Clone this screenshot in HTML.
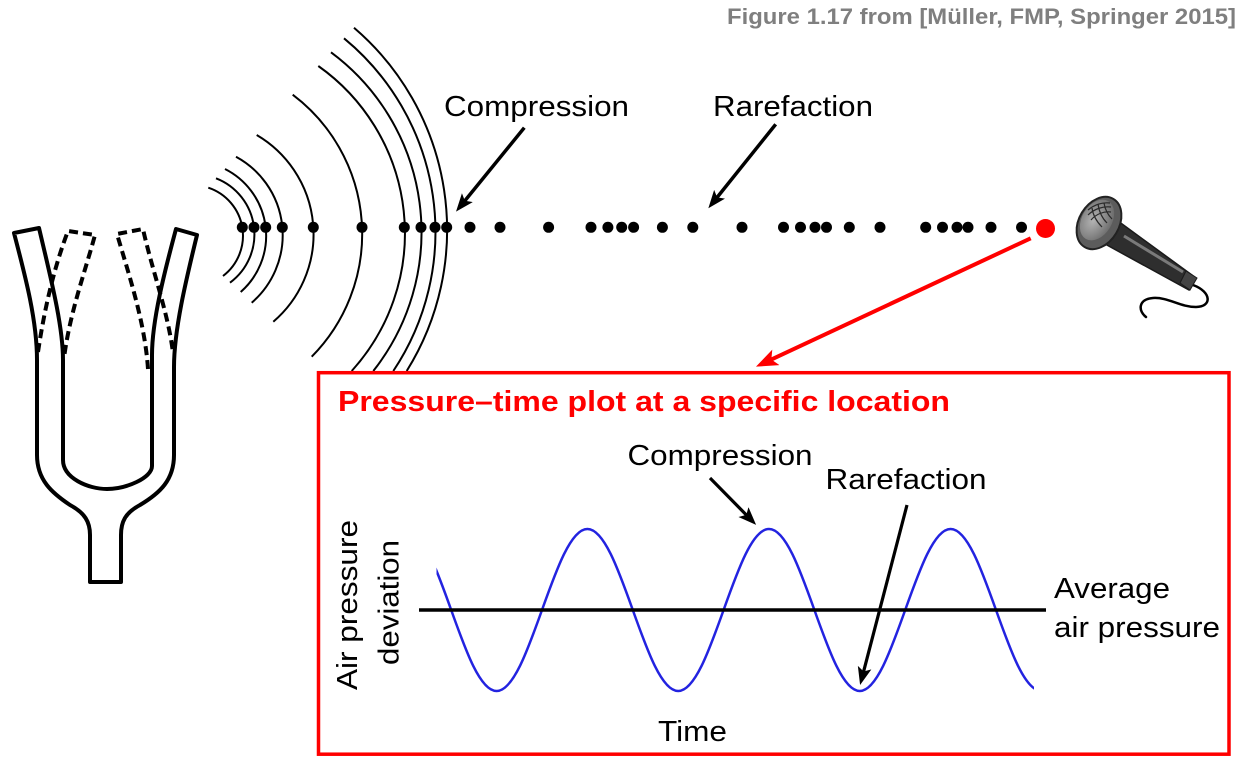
<!DOCTYPE html>
<html>
<head>
<meta charset="utf-8">
<style>
  html, body { margin: 0; padding: 0; background: #ffffff; }
  body { width: 1241px; height: 761px; overflow: hidden; }
  svg { display: block; }
  text { font-family: "Liberation Sans", Arial, sans-serif; }
</style>
</head>
<body>
<svg width="1241" height="761" viewBox="0 0 1241 761" xmlns="http://www.w3.org/2000/svg">
  <defs>
    <marker id="ab" markerUnits="userSpaceOnUse" markerWidth="20" markerHeight="16" refX="12" refY="7" orient="auto">
      <path d="M0,0 L18,7 L0,14 L4,7 Z" fill="#000"/>
    </marker>
    <marker id="ar" markerUnits="userSpaceOnUse" markerWidth="24" markerHeight="18" refX="14" refY="8.5" orient="auto">
      <path d="M0,0 L22,8.5 L0,17 L5,8.5 Z" fill="#ff0000"/>
    </marker>
    <clipPath id="sineclip">
      <rect x="436.5" y="500" width="597.5" height="220"/>
    </clipPath>
    <radialGradient id="headg" cx="0.45" cy="0.4" r="0.6">
      <stop offset="0" stop-color="#b4b4b4"/>
      <stop offset="1" stop-color="#6e6e6e"/>
    </radialGradient>
  </defs>

  <!-- Title -->
  <text x="727" y="24" font-size="22" font-weight="bold" fill="#7f7f7f" textLength="509" lengthAdjust="spacingAndGlyphs">Figure 1.17 from [Müller, FMP, Springer 2015]</text>

  <!-- Tuning fork -->
  <path d="M14,233 L39,228 C50,275 63,325 63,360 L63,460 C63,478 88,489 107,489 C126,489 152,478 152,466 L152,355 C152,320 165,270 176,229 L197,235 C186,280 174,330 174,367 L174,455 C174,480 160,493 140,505 C125,513 121,522 121,535 L121,582 L90,582 L90,535 C90,522 85,513 70,505 C52,493 37,480 37,455 L37,360 C37,320 25,275 14,233 Z"
        fill="#fff" stroke="#000" stroke-width="4" stroke-linejoin="round"/>
  <path d="M38,352 C45,305 55,265 68,231 L95,235 C85,272 70,312 64,358" fill="none" stroke="#000" stroke-width="4" stroke-dasharray="9,5"/>
  <path d="M148,369 C145,322 128,272 117,234 L143,229 C152,270 168,312 173,353" fill="none" stroke="#000" stroke-width="4" stroke-dasharray="9,5"/>

  <!-- Wave arcs -->
  <g fill="none" stroke="#000" stroke-width="2">
    <path d="M208.3,187.7 A50.6,50.6 0 0 1 223,276"/>
    <path d="M216,178.3 A60.1,60.1 0 0 1 230,282.7"/>
    <path d="M225,169 A74.8,74.8 0 0 1 240.7,292"/>
    <path d="M236,156.7 A89.2,89.2 0 0 1 251.7,302.7"/>
    <path d="M256.7,135 A115.1,115.1 0 0 1 273.3,321.7"/>
    <path d="M292.7,94.7 A174.4,174.4 0 0 1 311.7,356.7"/>
    <path d="M318.3,66 A204.8,204.8 0 0 1 351.7,371"/>
    <path d="M331,52.3 A224,224 0 0 1 373.3,371"/>
    <path d="M344,38.3 A250.6,250.6 0 0 1 393.3,371"/>
    <path d="M354,27.7 A266.3,266.3 0 0 1 406.7,371"/>
  </g>

  <!-- Dots -->
  <g fill="#000">
    <circle cx="242.3" cy="227.3" r="5.5"/>
    <circle cx="254" cy="227.3" r="5.5"/>
    <circle cx="265.7" cy="227.3" r="5.5"/>
    <circle cx="282.3" cy="227.3" r="5.5"/>
    <circle cx="313.3" cy="227.3" r="5.5"/>
    <circle cx="362" cy="227.3" r="5.5"/>
    <circle cx="404.3" cy="227.3" r="5.5"/>
    <circle cx="421" cy="227.3" r="5.5"/>
    <circle cx="435" cy="227.3" r="5.5"/>
    <circle cx="446.7" cy="227.3" r="5.5"/>
    <circle cx="470" cy="227.3" r="5.5"/>
    <circle cx="500" cy="227.3" r="5.5"/>
    <circle cx="548.6" cy="227.3" r="5.5"/>
    <circle cx="591" cy="227.3" r="5.5"/>
    <circle cx="607.9" cy="227.3" r="5.5"/>
    <circle cx="621.7" cy="227.3" r="5.5"/>
    <circle cx="633.6" cy="227.3" r="5.5"/>
    <circle cx="662.4" cy="227.3" r="5.5"/>
    <circle cx="692.8" cy="227.3" r="5.5"/>
    <circle cx="742" cy="227.3" r="5.5"/>
    <circle cx="783.5" cy="227.3" r="5.5"/>
    <circle cx="800.5" cy="227.3" r="5.5"/>
    <circle cx="815" cy="227.3" r="5.5"/>
    <circle cx="826.5" cy="227.3" r="5.5"/>
    <circle cx="849.3" cy="227.3" r="5.5"/>
    <circle cx="880" cy="227.3" r="5.5"/>
    <circle cx="925.7" cy="227.3" r="5.5"/>
    <circle cx="942.5" cy="227.3" r="5.5"/>
    <circle cx="957" cy="227.3" r="5.5"/>
    <circle cx="968" cy="227.3" r="5.5"/>
    <circle cx="991" cy="227.3" r="5.5"/>
    <circle cx="1021.5" cy="227.3" r="5.5"/>
  </g>
  <circle cx="1045.5" cy="228.5" r="9.5" fill="#ff0000"/>

  <!-- Top labels -->
  <text x="444" y="116" font-size="29" fill="#000" textLength="185" lengthAdjust="spacingAndGlyphs">Compression</text>
  <text x="713" y="116" font-size="29" fill="#000" textLength="160" lengthAdjust="spacingAndGlyphs">Rarefaction</text>
  <line x1="524.3" y1="127.7" x2="459.8" y2="207" stroke="#000" stroke-width="3.5" marker-end="url(#ab)"/>
  <line x1="775.7" y1="124.3" x2="712.1" y2="203.6" stroke="#000" stroke-width="3.5" marker-end="url(#ab)"/>

  <!-- Microphone -->
  <path d="M1193,285 C1212,292 1212,307 1196,307 C1180,307 1168,297 1153,298 C1138,299 1138,311 1146,317" fill="none" stroke="#000" stroke-width="2.5" stroke-linecap="round"/>
  <polygon points="1118,221 1196,278 1189,290 1105,244" fill="#2e2e2e" stroke="#1a1a1a" stroke-width="1.5"/>
  <line x1="1124" y1="236" x2="1183" y2="272" stroke="#7a7a7a" stroke-width="3"/>
  <polygon points="1186,271 1197,278 1190,290 1180,283" fill="#444" stroke="#1a1a1a" stroke-width="1"/>
  <ellipse cx="1099" cy="223" rx="28" ry="20" transform="rotate(-59 1099 223)" fill="#5c5c5c" stroke="#222" stroke-width="2"/>
  <ellipse cx="1097" cy="220" rx="22" ry="15" transform="rotate(-59 1097 220)" fill="url(#headg)"/>
  <g fill="none" stroke="#2a2a2a" stroke-width="1.2">
    <path d="M1088,210 C1094,205 1102,202 1110,203"/>
    <path d="M1088,215 C1094,209 1103,206 1111,207"/>
    <path d="M1091,220 C1096,214 1104,211 1111,212"/>
    <path d="M1092,208 C1093,215 1097,222 1102,227"/>
    <path d="M1098,204 C1099,211 1102,218 1107,223"/>
    <path d="M1104,203 C1105,209 1108,215 1112,219"/>
  </g>

  <!-- Red arrow -->
  <line x1="1030.7" y1="238.3" x2="763.2" y2="363.3" stroke="#ff0000" stroke-width="4" marker-end="url(#ar)"/>

  <!-- Red box -->
  <rect x="318.5" y="372.7" width="910.5" height="381.5" fill="#ffffff" stroke="#ff0000" stroke-width="3.5"/>
  <text x="338" y="411" font-size="29" font-weight="bold" fill="#ff0000" textLength="612" lengthAdjust="spacingAndGlyphs">Pressure–time plot at a specific location</text>

  <!-- Sine wave -->
  <path clip-path="url(#sineclip)" d="M405.8,529 C438.8,529 463.6,691 496.6,691 C529.6,691 554.4,529 587.4,529 C620.4,529 645.2,691 678.2,691 C711.2,691 736,529 769,529 C802,529 826.8,691 859.8,691 C892.8,691 917.6,529 950.6,529 C983.6,529 1008.4,691 1041.4,691"
        fill="none" stroke="#2323e0" stroke-width="2.5"/>
  <line x1="419" y1="610" x2="1046" y2="610" stroke="#000" stroke-width="3.5"/>

  <!-- Inner labels -->
  <text x="627.5" y="465" font-size="29" fill="#000" textLength="185" lengthAdjust="spacingAndGlyphs">Compression</text>
  <text x="825.5" y="489" font-size="29" fill="#000" textLength="161" lengthAdjust="spacingAndGlyphs">Rarefaction</text>
  <line x1="710" y1="478" x2="751.9" y2="520.6" stroke="#000" stroke-width="3.2" marker-end="url(#ab)"/>
  <line x1="907" y1="505" x2="861.6" y2="679.2" stroke="#000" stroke-width="3.2" marker-end="url(#ab)"/>

  <text x="1054" y="598" font-size="29" fill="#000" textLength="116" lengthAdjust="spacingAndGlyphs">Average</text>
  <text x="1054" y="637" font-size="29" fill="#000" textLength="166" lengthAdjust="spacingAndGlyphs">air pressure</text>
  <text x="658" y="741" font-size="29" fill="#000" textLength="69" lengthAdjust="spacingAndGlyphs">Time</text>

  <text transform="translate(357,690) rotate(-90)" x="0" y="0" font-size="29" fill="#000" textLength="170" lengthAdjust="spacingAndGlyphs">Air pressure</text>
  <text transform="translate(398.5,665) rotate(-90)" x="0" y="0" font-size="29" fill="#000" textLength="125" lengthAdjust="spacingAndGlyphs">deviation</text>
</svg>
</body>
</html>
